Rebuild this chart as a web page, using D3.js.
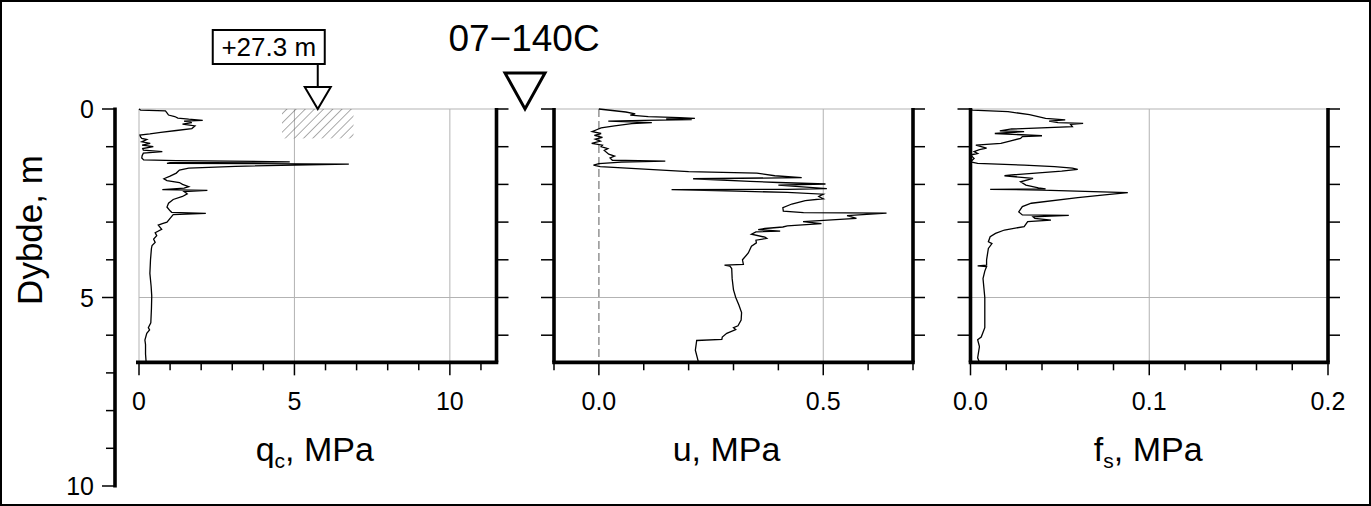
<!DOCTYPE html>
<html><head><meta charset="utf-8">
<script src="https://cdn.jsdelivr.net/npm/d3@7"></script>
<style>
html,body{margin:0;padding:0;background:#fff}
svg{display:block}
text{font-family:"Liberation Sans",Arial,Helvetica,sans-serif;fill:#000}
</style>
</head><body>
<svg id="c" width="1371" height="506"></svg>
<script>
// ---------- data ----------
const chartTitle = "07\u2212140C";
const depthLabel = "Dybde, m";
const elevationLabel = "+27.3 m";
const depthMajorTicks = [0, 5, 10];
const depthMinorTicks = [0,1,2,3,4,5,6,7,8,9,10];
const panelDepthTicks = [0,1,2,3,4,5,6];
const maxDepth = 6.72;

const qcMajorTicks = [0, 5, 10];
const qcMinorTicks = [0,1,2,3,4,5,6,7,8,9,10,11];
const qcTickLabels = ["0", "5", "10"];
const uMajorTicks = [0, 0.5];
const uMinorTicks = [-0.1,0,0.1,0.2,0.3,0.4,0.5,0.6,0.7];
const uTickLabels = ["0.0", "0.5"];
const fsMajorTicks = [0, 0.1, 0.2];
const fsMinorTicks = [0,0.02,0.04,0.06,0.08,0.1,0.12,0.14,0.16,0.18,0.2];
const fsTickLabels = ["0.0", "0.1", "0.2"];

const markerQc = 5.75;
const hatchQc = [4.6, 6.9];
const hatchDepth = [0, 0.78];

// [depth m, qc MPa]
const qcProfile = [
[0.00,0.00],[0.03,0.05],[0.05,0.85],[0.10,0.90],[0.16,0.95],[0.20,1.15],[0.24,1.25],[0.27,1.60],
[0.30,2.05],[0.32,1.45],[0.36,1.70],[0.40,1.40],[0.45,1.80],[0.52,1.70],[0.57,1.20],[0.62,0.70],
[0.66,0.35],[0.69,0.03],[0.74,0.05],[0.78,0.09],[0.81,0.25],[0.87,0.09],[0.91,0.36],[0.96,0.10],
[1.00,0.46],[1.05,0.12],[1.09,0.14],[1.13,0.75],[1.17,0.14],[1.24,0.10],[1.30,0.09],[1.35,0.15],
[1.37,1.20],[1.40,4.85],[1.42,1.00],[1.44,0.90],[1.46,6.75],[1.52,3.10],[1.57,1.60],[1.62,1.30],
[1.70,1.20],[1.78,1.00],[1.85,0.80],[1.90,0.90],[1.95,1.30],[2.00,1.40],[2.06,1.60],[2.10,1.45],
[2.14,0.75],[2.16,2.20],[2.19,1.45],[2.25,1.55],[2.32,1.40],[2.40,1.10],[2.50,0.95],[2.60,0.90],
[2.70,1.00],[2.74,1.05],[2.77,2.15],[2.80,1.10],[2.90,1.00],[3.00,0.90],[3.04,0.75],[3.08,0.62],
[3.19,0.73],[3.28,0.52],[3.36,0.57],[3.45,0.47],[3.54,0.52],[3.62,0.42],[3.70,0.40],[4.00,0.37],
[4.36,0.35],[4.70,0.39],[4.96,0.41],[5.30,0.40],[5.67,0.38],[5.80,0.30],[5.86,0.34],[5.95,0.25],
[6.13,0.19],[6.25,0.21],[6.50,0.21],[6.72,0.23]
];

// [depth m, u MPa]
const uProfile = [
[0.00,0.000],[0.08,0.060],[0.13,0.081],[0.16,0.070],[0.20,0.110],[0.23,0.180],[0.25,0.214],[0.26,0.150],
[0.28,0.207],[0.30,0.100],[0.32,0.021],[0.34,0.070],[0.36,0.118],[0.39,0.073],[0.45,0.035],[0.50,0.005],
[0.55,-0.005],[0.60,-0.015],[0.65,0.005],[0.70,-0.010],[0.75,0.008],[0.80,-0.008],[0.85,0.003],[0.91,-0.016],
[0.96,0.008],[1.00,0.005],[1.05,0.020],[1.10,0.012],[1.20,0.022],[1.25,0.035],[1.30,0.025],[1.36,0.030],
[1.38,0.148],[1.41,0.050],[1.45,0.000],[1.49,-0.012],[1.53,0.003],[1.66,0.200],[1.70,0.352],[1.77,0.392],
[1.82,0.452],[1.85,0.210],[1.92,0.337],[1.95,0.400],[1.99,0.505],[2.02,0.400],[2.11,0.508],[2.13,0.420],
[2.14,0.162],[2.18,0.307],[2.21,0.420],[2.26,0.500],[2.32,0.490],[2.38,0.500],[2.43,0.460],[2.52,0.430],
[2.62,0.410],[2.71,0.411],[2.75,0.456],[2.76,0.641],[2.83,0.553],[2.90,0.574],[2.99,0.455],[3.04,0.496],
[3.10,0.420],[3.13,0.410],[3.17,0.370],[3.20,0.355],[3.24,0.404],[3.26,0.350],[3.32,0.340],[3.40,0.370],
[3.43,0.374],[3.48,0.350],[3.55,0.351],[3.64,0.340],[3.82,0.333],[4.00,0.320],[4.12,0.322],[4.14,0.280],
[4.17,0.292],[4.23,0.296],[4.50,0.297],[4.80,0.300],[5.00,0.305],[5.20,0.312],[5.40,0.318],[5.60,0.317],
[5.75,0.310],[5.80,0.300],[5.85,0.305],[5.95,0.285],[6.05,0.275],[6.11,0.274],[6.14,0.218],[6.40,0.215],
[6.72,0.222]
];

// [depth m, fs MPa]
const fsProfile = [
[0.00,0.000],[0.03,0.001],[0.07,0.021],[0.15,0.033],[0.25,0.042],[0.29,0.053],[0.32,0.044],[0.36,0.049],
[0.38,0.063],[0.41,0.056],[0.47,0.057],[0.53,0.023],[0.58,0.0164],[0.60,0.030],[0.65,0.0136],[0.71,0.040],
[0.73,0.029],[0.78,0.028],[0.85,0.022],[0.91,0.017],[0.96,0.003],[1.00,0.006],[1.04,0.009],[1.08,0.005],
[1.13,0.002],[1.18,0.004],[1.22,0.000],[1.31,0.002],[1.40,0.000],[1.44,0.004],[1.49,0.030],[1.53,0.047],
[1.57,0.057],[1.60,0.060],[1.65,0.051],[1.75,0.023],[1.77,0.019],[1.84,0.035],[1.93,0.028],[2.02,0.031],
[2.09,0.038],[2.12,0.042],[2.13,0.011],[2.15,0.040],[2.22,0.088],[2.28,0.075],[2.35,0.060],[2.50,0.034],
[2.59,0.029],[2.73,0.027],[2.81,0.029],[2.82,0.055],[2.86,0.035],[2.90,0.036],[2.95,0.045],[2.99,0.032],
[3.12,0.030],[3.21,0.019],[3.30,0.014],[3.39,0.011],[3.52,0.010],[3.57,0.012],[3.70,0.010],[4.00,0.009],
[4.14,0.009],[4.16,0.004],[4.18,0.009],[4.30,0.008],[4.50,0.007],[5.00,0.008],[5.50,0.008],[5.80,0.008],
[6.05,0.006],[6.12,0.004],[6.30,0.005],[6.60,0.004],[6.72,0.005]
];

// ---------- drawing ----------
const svg = d3.select("#c");
const W = 1371, H = 506;
const grid = "#b3b3b3";
const thick = 3.6;
const tickFont = 25, titleFont = 34;

svg.append("rect").attr("x",1).attr("y",1).attr("width",W-2).attr("height",H-2)
  .attr("fill","#fff").attr("stroke","#000").attr("stroke-width",2);

const defs = svg.append("defs");
defs.append("pattern").attr("id","hatch").attr("patternUnits","userSpaceOnUse")
  .attr("width",6.5).attr("height",6.5).attr("patternTransform","rotate(45)")
  .append("line").attr("x1",0).attr("y1",0).attr("x2",0).attr("y2",6.5)
  .attr("stroke","#555").attr("stroke-width",1);

const y = d3.scaleLinear().domain([0,10]).range([109,486]);
const yBot = y(maxDepth);

// main depth axis
const axX = 115;
svg.append("line").attr("x1",axX).attr("x2",axX).attr("y1",y(0)-1.5).attr("y2",y(10)+1.5)
  .attr("stroke","#000").attr("stroke-width",thick);
svg.append("g").selectAll("line").data(depthMinorTicks).join("line")
  .attr("x1",axX).attr("x2",d=>axX-(depthMajorTicks.includes(d)?13:9))
  .attr("y1",d=>y(d)).attr("y2",d=>y(d)).attr("stroke","#000").attr("stroke-width",1.5);
svg.append("g").selectAll("text").data(depthMajorTicks).join("text")
  .attr("x",94).attr("y",d=>y(d)).attr("dy","0.36em").attr("text-anchor","end")
  .attr("font-size",tickFont).text(d=>d);
svg.append("text").attr("transform",`translate(42,230) rotate(-90)`)
  .attr("text-anchor","middle").attr("font-size",35).text(depthLabel);

const panels = [
  {x:d3.scaleLinear().domain([0,11.5]).range([139,496.5]), data:qcProfile, minor:qcMinorTicks,
   major:qcMajorTicks, labels:qcTickLabels, leftThick:false, vgrid:[0,5,10], dashed:null, t:["q","c"], off:-3},
  {x:d3.scaleLinear().domain([-0.1,0.7]).range([554,913]), data:uProfile, minor:uMinorTicks,
   major:uMajorTicks, labels:uTickLabels, leftThick:true, vgrid:[0.5], dashed:0, t:["u",null], off:-7},
  {x:d3.scaleLinear().domain([0,0.2]).range([970.5,1328]), data:fsProfile, minor:fsMinorTicks,
   major:fsMajorTicks, labels:fsTickLabels, leftThick:true, vgrid:[0.1], dashed:null, t:["f","s"], off:-1}
];

panels.forEach((p,i)=>{
  const x = p.x, [x0,x1] = x.range();
  const g = svg.append("g");
  g.selectAll(".vg").data(p.vgrid).join("line").attr("x1",d=>x(d)).attr("x2",d=>x(d))
    .attr("y1",y(0)).attr("y2",yBot).attr("stroke",grid).attr("stroke-width",1);
  g.selectAll(".hg").data([0,5]).join("line").attr("x1",x0).attr("x2",x1)
    .attr("y1",d=>y(d)).attr("y2",d=>y(d)).attr("stroke",grid).attr("stroke-width",1);
  if(p.dashed!==null){
    g.append("line").attr("x1",x(p.dashed)).attr("x2",x(p.dashed)).attr("y1",y(0)).attr("y2",yBot)
      .attr("stroke","#999").attr("stroke-width",1.6).attr("stroke-dasharray","8,4");
  }
  if(i===0){
    g.append("rect").attr("x",x(hatchQc[0])).attr("y",y(hatchDepth[0]))
      .attr("width",x(hatchQc[1])-x(hatchQc[0])).attr("height",y(hatchDepth[1])-y(hatchDepth[0]))
      .attr("fill","url(#hatch)");
  }
  g.append("path").datum(p.data)
    .attr("d",d3.line().x(d=>x(d[1])).y(d=>y(d[0])))
    .attr("fill","none").attr("stroke","#000").attr("stroke-width",1.3).attr("stroke-linejoin","miter");
  g.append("line").attr("x1",x0-(p.leftThick?1.8:3)).attr("x2",x1+1.8).attr("y1",yBot).attr("y2",yBot)
    .attr("stroke","#000").attr("stroke-width",thick);
  g.append("line").attr("x1",x1).attr("x2",x1).attr("y1",y(0)-1).attr("y2",yBot)
    .attr("stroke","#000").attr("stroke-width",thick);
  g.selectAll(".rt").data(panelDepthTicks).join("line").attr("x1",x1).attr("x2",x1+12)
    .attr("y1",d=>y(d)).attr("y2",d=>y(d)).attr("stroke","#000").attr("stroke-width",1.5);
  if(p.leftThick){
    g.append("line").attr("x1",x0).attr("x2",x0).attr("y1",y(0)-1).attr("y2",yBot)
      .attr("stroke","#000").attr("stroke-width",thick);
    g.selectAll(".lt").data(panelDepthTicks).join("line").attr("x1",x0).attr("x2",x0-13)
      .attr("y1",d=>y(d)).attr("y2",d=>y(d)).attr("stroke","#000").attr("stroke-width",1.5);
  }
  g.selectAll(".bt").data(p.minor).join("line").attr("x1",d=>x(d)).attr("x2",d=>x(d))
    .attr("y1",yBot).attr("y2",d=>yBot+(p.major.some(m=>Math.abs(m-d)<1e-9)?13:8))
    .attr("stroke","#000").attr("stroke-width",1.5);
  g.selectAll(".bl").data(p.major).join("text").attr("x",d=>x(d)).attr("y",410)
    .attr("text-anchor","middle").attr("font-size",tickFont).text((d,j)=>p.labels[j]);
  const tt = g.append("text").attr("x",(x0+x1)/2 + p.off).attr("y",461).attr("text-anchor","middle").attr("font-size",titleFont);
  tt.append("tspan").text(p.t[0]);
  if(p.t[1]){
    tt.append("tspan").attr("font-size",21).attr("dy",7).text(p.t[1]);
    tt.append("tspan").attr("dy",-7).text(", MPa");
  } else {
    tt.append("tspan").text(", MPa");
  }
});

svg.append("text").attr("x",524).attr("y",51).attr("text-anchor","middle").attr("font-size",37).text(chartTitle);
svg.append("path").attr("d",`M505,73 L545,73 L525,${y(0)} Z`).attr("fill","#fff")
  .attr("stroke","#000").attr("stroke-width",3).attr("stroke-linejoin","miter");

const px = panels[0].x(markerQc);
svg.append("line").attr("x1",px).attr("x2",px).attr("y1",64).attr("y2",87).attr("stroke","#000").attr("stroke-width",2);
svg.append("path").attr("d",`M${px-13},87 L${px+13},87 L${px},${y(0)} Z`).attr("fill","#fff")
  .attr("stroke","#000").attr("stroke-width",2);
svg.append("rect").attr("x",px-105).attr("y",30).attr("width",112).attr("height",34)
  .attr("fill","#fff").attr("stroke","#000").attr("stroke-width",2);
svg.append("text").attr("x",px-49).attr("y",56).attr("text-anchor","middle").attr("font-size",26).text(elevationLabel);
</script>
</body></html>
